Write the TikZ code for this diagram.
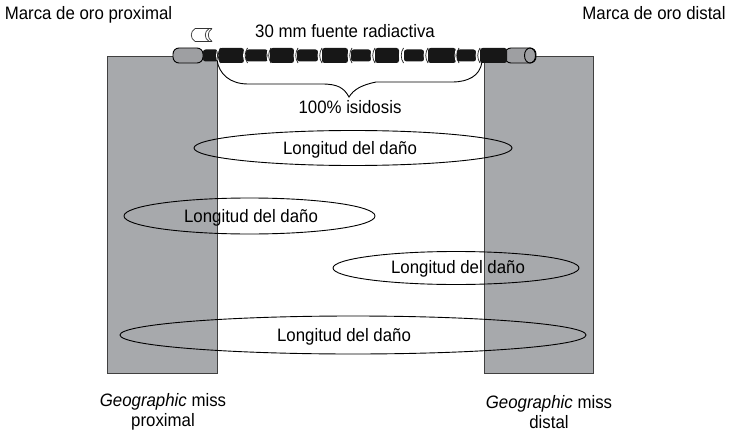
\documentclass[tikz,border=0pt]{standalone}
\usepackage{fontspec}
\setmainfont[FakeStretch=0.935]{Liberation Sans}
\usetikzlibrary{shapes.geometric}
\newlength{\du}
\setlength{\du}{1pt}
\definecolor{missgray}{rgb}{0.655, 0.663, 0.675}
\definecolor{markgray}{rgb}{0.620, 0.625, 0.635}
\definecolor{seedblack}{rgb}{0.090, 0.090, 0.090}
\tikzset{
  missbox/.style={draw=black!75, fill=missgray, line width=0.9pt},
  damage/.style={draw=black, line width=0.9pt, ellipse, inner sep=0pt},
  lbl/.style={font=\fontsize{18}{19.5}\selectfont, inner sep=0pt, align=center},
  seed/.style={fill=seedblack, rounded corners=2.5\du},
  goldmark/.style={draw=black, fill=markgray, line width=0.9pt, rounded corners=6\du},
  gapcurve/.style={draw=white, line width=0.9pt}
}
\begin{document}
\begin{tikzpicture}
\pgftransformyscale{-1.000000}
\useasboundingbox (0\du,0\du) rectangle (730\du,433\du);
% geographic miss zones
\fill[missbox] (107\du,56\du) rectangle (217\du,373\du);
\fill[missbox] (484\du,56\du) rectangle (593\du,373\du);
% gold markers
\draw[goldmark] (173\du,48\du) rectangle (203\du,63\du);
\draw[goldmark] (505\du,48\du) rectangle (536\du,63\du);
\draw[black, line width=0.9pt] (530\du,55.5\du) ellipse [x radius=5.5\du, y radius=7.5\du];
% source train
\foreach \xa/\xb in {219/244,270/294,322/348,375/399,428/456,480/507}
  \fill[seed] (\xa\du,48\du) rectangle (\xb\du,63\du);
\foreach \xa/\xb in {203/218,246/268,297/318,351/371,404/424,457/476}
  \fill[seed] (\xa\du,49.5\du) rectangle (\xb\du,61.5\du);
\foreach \xc in {218,245,268.5,295.5,319.5,349.5,372.5,401,425.5,456.5,477.5}{
  \draw[gapcurve] (\xc\du+1.5\du,47\du) .. controls (\xc\du-2.5\du,51\du) and (\xc\du-2.5\du,60\du) .. (\xc\du+1.5\du,64\du);
  \draw[seedblack, line width=0.7pt] (\xc\du+2.5\du,48\du) .. controls (\xc\du-0.5\du,52\du) and (\xc\du-0.5\du,59\du) .. (\xc\du+2.5\du,63\du);
}
% small seed icon
\draw[black!80, line width=0.7pt] (195\du,28.5\du) -- (212\du,28.5\du) (195\du,41.5\du) -- (212\du,41.5\du);
\draw[black!80, line width=0.7pt] (195\du,28.5\du) .. controls (190\du,32\du) and (190\du,38\du) .. (195\du,41.5\du);
\draw[black!80, line width=0.7pt] (212\du,28.5\du) .. controls (207\du,32\du) and (207\du,38\du) .. (212\du,41.5\du);
\draw[black!80, line width=0.7pt] (209\du,28.5\du) .. controls (204\du,32\du) and (204\du,38\du) .. (209\du,41.5\du);
% brace
\coordinate (bracel) at (217\du,60\du);
\coordinate (bracer) at (482\du,62\du);
\coordinate (bracetip) at (349\du,97\du);
\draw[black, line width=0.9pt] (bracel) .. controls (219\du,74\du) and (230\du,84\du) .. (248\du,84\du)
  -- (322\du,84\du) .. controls (338\du,84\du) and (344\du,88\du) .. (bracetip)
  .. controls (354\du,89\du) and (362\du,85\du) .. (376\du,82\du)
  -- (452\du,82\du) .. controls (468\du,82\du) and (480\du,76\du) .. (bracer);
% damage lengths
\node[damage, minimum width=318\du, minimum height=35\du] (dano1) at (353\du,148\du) {};
\node[damage, minimum width=251\du, minimum height=36\du] (dano2) at (249.5\du,216\du) {};
\node[damage, minimum width=246\du, minimum height=33\du] (dano3) at (456\du,268\du) {};
\node[damage, minimum width=466\du, minimum height=38\du] (dano4) at (353\du,335\du) {};
\node[lbl] (txt1) at (350\du,150\du) {Longitud del daño};
\node[lbl] (txt2) at (251\du,218\du) {Longitud del daño};
\node[lbl] (txt3) at (458\du,269\du) {Longitud del daño};
\node[lbl] (txt4) at (344\du,337\du) {Longitud del daño};
% labels
\node[lbl] (proxgold) at (88.5\du,15\du) {Marca de oro proximal};
\node[lbl] (distgold) at (654\du,13\du) {Marca de oro distal};
\node[lbl] (fuente) at (345\du,31\du) {30 mm fuente radiactiva};
\node[lbl] (isidosis) at (350\du,107\du) {100\% isidosis};
\node[lbl] (missprox) at (163\du,412\du) {\textit{Geographic} miss\\proximal};
\node[lbl] (missdist) at (549\du,412\du) {\textit{Geographic} miss\\distal};
\end{tikzpicture}
\end{document}
